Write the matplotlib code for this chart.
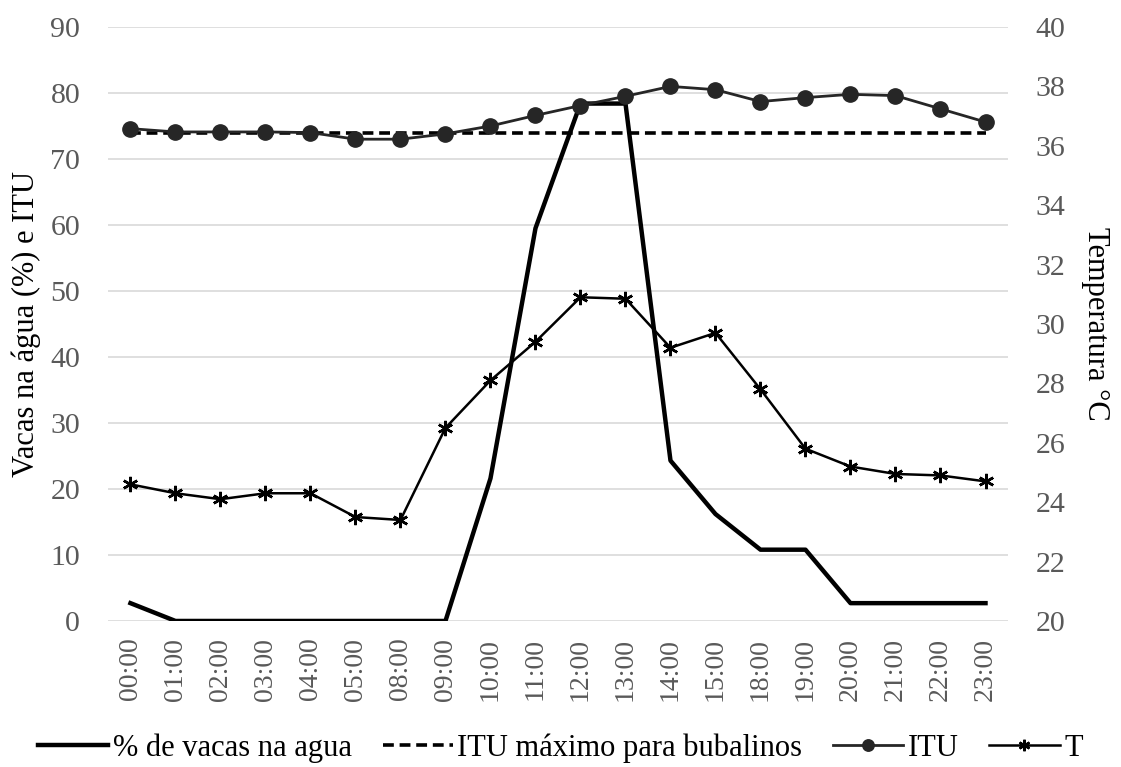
import matplotlib
matplotlib.use("Agg")
import matplotlib.pyplot as plt

hours = ["00:00", "01:00", "02:00", "03:00", "04:00", "05:00", "08:00", "09:00",
         "10:00", "11:00", "12:00", "13:00", "14:00", "15:00", "18:00", "19:00",
         "20:00", "21:00", "22:00", "23:00"]
vacas = [2.7, 0, 0, 0, 0, 0, 0, 0, 21.6, 59.5, 78.4, 78.4, 24.3, 16.2, 10.8, 10.8,
         2.7, 2.7, 2.7, 2.7]
itu_max = [74.0] * len(hours)
itu = [74.6, 74.1, 74.1, 74.1, 74.0, 73.0, 73.0, 73.8, 75.0, 76.6, 78.1, 79.5,
       81.0, 80.5, 78.7, 79.3, 79.8, 79.6, 77.6, 75.6]
temp = [24.6, 24.3, 24.1, 24.3, 24.3, 23.5, 23.4, 26.5, 28.1, 29.4, 30.9, 30.85,
        29.2, 29.7, 27.8, 25.8, 25.2, 24.95, 24.9, 24.7]

plt.rcParams['font.family'] = ['Liberation Serif', 'DejaVu Serif']
grey = '#595959'

fig = plt.figure(figsize=(11.21, 7.67), dpi=100)
ax = fig.add_axes([0.0963, 0.1904, 0.8029, 0.7744])
ax2 = ax.twinx()

x = list(range(len(hours)))
l1, = ax.plot(x, vacas, color='black', lw=3.2, solid_joinstyle='round', zorder=3,
              label='% de vacas na agua')
l2, = ax.plot(x, itu_max, color='black', lw=2.6, ls=(0, (3, 1.6)), zorder=3,
              label='ITU máximo para bubalinos')
l3, = ax.plot(x, itu, color='#262626', lw=2.0, marker='o', markersize=11,
              zorder=4, label='ITU')
l4, = ax2.plot(x, temp, color='black', lw=1.8, marker=(6, 2, 0), markersize=11,
               markeredgewidth=1.8, zorder=4, label='T')

ax.set_xlim(-0.5, len(hours) - 0.5)
ax.set_ylim(0, 90)
ax.set_yticks(range(0, 91, 10))
ax2.set_ylim(20, 40)
ax2.set_yticks(range(20, 41, 2))

ax.set_xticks(x)
ax.set_xticklabels(hours, rotation=90, fontsize=20, color=grey)
ax.tick_params(axis='y', labelsize=21.5, colors=grey, length=0, pad=20)
ax2.tick_params(axis='y', labelsize=21.5, colors=grey, length=0, pad=20)
ax.tick_params(axis='x', length=0, pad=12)

ax.grid(axis='y', color='#d9d9d9', lw=1.2)
ax.set_axisbelow(True)
for a in (ax, ax2):
    for s in a.spines.values():
        s.set_visible(False)

ax.set_ylabel('Vacas na água (%) e ITU', fontsize=22, color='black', labelpad=7)
ax2.set_ylabel('Temperatura °C', fontsize=22, color='black', rotation=-90,
               labelpad=32)

fig.legend(handles=[l1, l2, l3, l4], loc='center', ncol=4, frameon=False,
           fontsize=22, bbox_to_anchor=(0.5, 0.025), handlelength=2.3,
           handletextpad=0.15, columnspacing=1.0, markerscale=0.75)

fig.savefig('out.png', dpi=100)
